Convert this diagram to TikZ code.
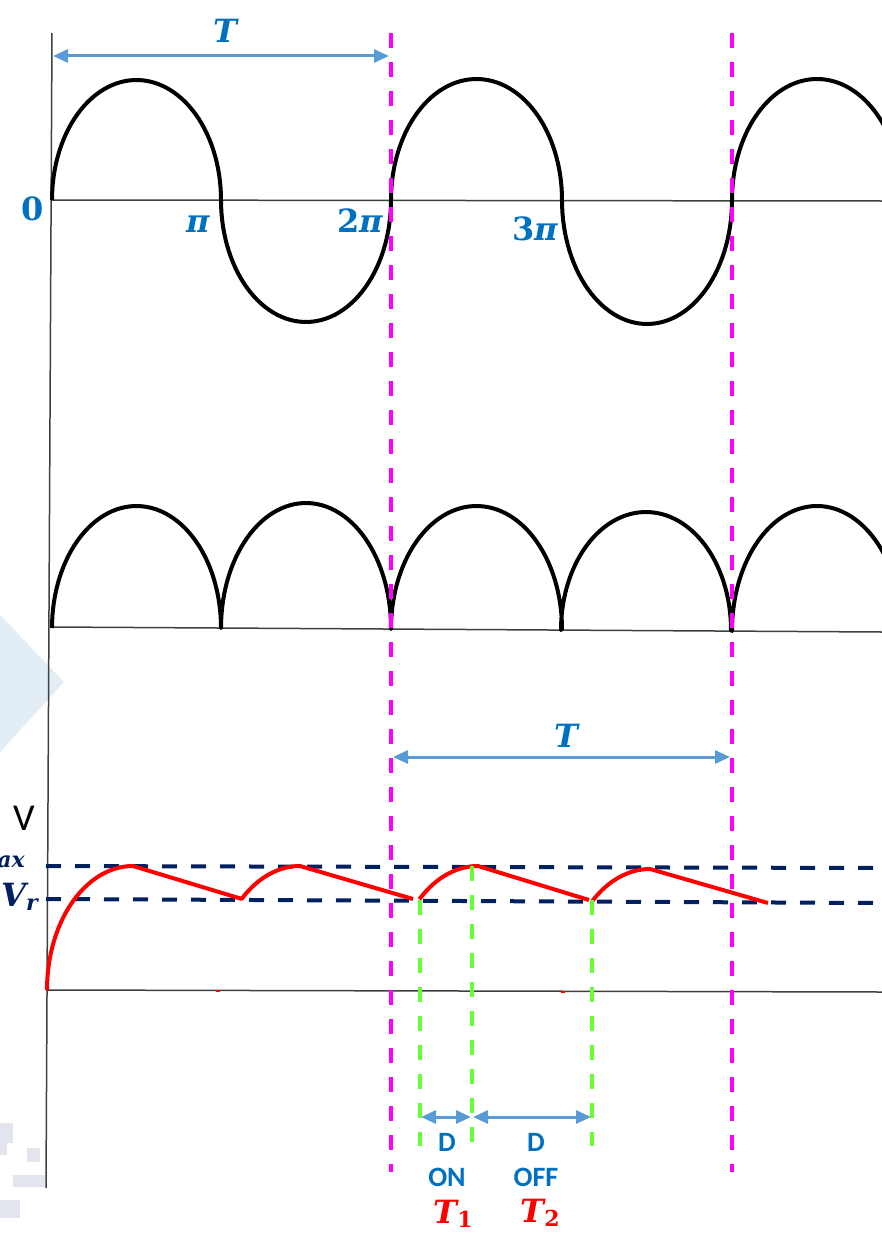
\documentclass[tikz,border=0pt]{standalone}
\usepackage{fontspec}
\newfontfamily\carl{Carlito}
\newfontfamily\mserif{DejaVu Serif}
\usetikzlibrary{arrows.meta}
\definecolor{lblue}{HTML}{0070C0}
\definecolor{arrblue}{HTML}{5B9BD5}
\definecolor{navy}{HTML}{002060}
\definecolor{mag}{HTML}{FF00FF}
\definecolor{grn}{HTML}{66FF33}
\definecolor{wm}{RGB}{226,237,245}
\definecolor{wmg}{RGB}{226,228,238}
\newcommand{\subtx}[1]{\raisebox{-0.28ex}{\fontsize{22}{22}\selectfont #1}}
\begin{document}
\begin{tikzpicture}[x=1pt,y=-1pt,
  axis/.style={draw=black!75,line width=1.5pt},
  wave/.style={draw=black,line width=4pt,line join=round},
  magdash/.style={draw=mag,line width=3.5pt,dash pattern=on 15pt off 14pt},
  lvl/.style={draw=navy,line width=4pt,dash pattern=on 15pt off 14pt},
  gdash/.style={draw=grn,line width=3.5pt,dash pattern=on 15pt off 14pt},
  rc/.style={draw=red,line width=4pt,line join=round},
  dim/.style={draw=arrblue,line width=3pt,arrows={Triangle[length=15pt,width=13pt]-Triangle[length=15pt,width=13pt]}},
  mlab/.style={text=lblue,font=\mserif\bfseries\fontsize{32}{38}\selectfont,inner sep=0pt,anchor=base},
  rlab/.style={text=red,font=\mserif\bfseries\itshape\fontsize{32}{38}\selectfont,inner sep=0pt,anchor=base},
  vlab/.style={text=navy,font=\mserif\bfseries\itshape\fontsize{32}{38}\selectfont,inner sep=0pt},
  dlab/.style={text=lblue,font=\carl\bfseries\fontsize{28}{32}\selectfont,inner sep=0pt,anchor=base}
]
\useasboundingbox (0,0) rectangle (882,1239);
\clip (0,0) rectangle (882,1239);

% faint watermark remnants
\fill[wm] (0,615) -- (64,682) -- (0,752) -- cycle;
\fill[wmg] (0,1123) rectangle (13,1143);
\fill[wmg] (0,1143) rectangle (7,1155);
\fill[wmg] (27,1148) rectangle (40,1162);
\fill[wmg] (13,1175) rectangle (45,1187);
\fill[wmg] (0,1200) rectangle (20,1218);

% axes
\coordinate (yTop) at (52,33);
\coordinate (yBot) at (46,1188);
\coordinate (a1l) at (52,200); \coordinate (a1r) at (882,201);
\coordinate (a2l) at (52,627); \coordinate (a2r) at (882,632);
\coordinate (a3l) at (46,990); \coordinate (a3r) at (882,992);
\draw[axis] (yTop) -- (yBot);
\draw[axis] (a1l) -- (a1r);
\draw[axis] (a2l) -- (a2r);
\draw[axis] (a3l) -- (a3r);

% input sine wave
\draw[wave] plot[domain=180:0,samples=60] ({136.5+84.5*cos(\x)},{200-120*sin(\x)})
  -- plot[domain=180:360,samples=60] ({306+85*cos(\x)},{200-122*sin(\x)})
  -- plot[domain=180:0,samples=60] ({476.5+85.5*cos(\x)},{200-121*sin(\x)})
  -- plot[domain=180:360,samples=60] ({647+85*cos(\x)},{200-124*sin(\x)})
  -- plot[domain=180:30,samples=60] ({817+85*cos(\x)},{200-121*sin(\x)});

% full-wave rectified
\draw[wave] plot[domain=180:0,samples=60] ({136.5+84.5*cos(\x)},{628-122*sin(\x)})
  -- plot[domain=180:0,samples=60] ({306+85*cos(\x)},{628-125*sin(\x)})
  -- plot[domain=180:0,samples=60] ({476.5+85.5*cos(\x)},{629-123*sin(\x)})
  -- plot[domain=180:0,samples=60] ({646+85*cos(\x)},{630-118*sin(\x)})
  -- plot[domain=180:30,samples=60] ({817+85*cos(\x)},{631-125*sin(\x)});

% level lines
\coordinate (vmL) at (46,866); \coordinate (vmR) at (882,868);
\coordinate (vrL) at (46,899); \coordinate (vrR) at (882,903);
\draw[lvl] (vmL) -- (vmR);
\draw[lvl] (vrL) -- (vrR);

% filtered output (red)
\draw[rc] plot[domain=180:90,samples=50] ({133+86*cos(\x)},{990-124*sin(\x)}) -- (242,899);
\draw[rc] plot[domain=133:90,samples=30] ({300+86*cos(\x)},{990-124*sin(\x)}) -- (413,899);
\draw[rc] plot[domain=133:90,samples=30] ({478+86*cos(\x)},{990-124*sin(\x)}) -- (589,900);
\draw[rc] plot[domain=133:90,samples=30] ({650+86*cos(\x)},{993-124*sin(\x)}) -- (768,903);
\draw[red,line width=2pt] (216,991) -- (220,991);
\draw[red,line width=2pt] (561,992) -- (565,992);

% green dashed lines
\coordinate (g1t) at (420,900); \coordinate (g1b) at (420,1146);
\coordinate (g2t) at (472,866); \coordinate (g2b) at (472,1146);
\coordinate (g3t) at (592,900); \coordinate (g3b) at (592,1146);
\draw[gdash] (g1t) -- (g1b);
\draw[gdash] (g2t) -- (g2b);
\draw[gdash] (g3t) -- (g3b);

% magenta dashed lines
\coordinate (m1t) at (391,33); \coordinate (m1b) at (391,1172);
\coordinate (m2t) at (732,33); \coordinate (m2b) at (732,1172);
\draw[magdash] (m1t) -- (m1b);
\draw[magdash] (m2t) -- (m2b);

% dimension arrows
\coordinate (tA) at (53,56); \coordinate (tB) at (389,56);
\draw[dim] (tA) -- (tB);
\coordinate (tC) at (393,757); \coordinate (tD) at (730,757);
\draw[dim] (tC) -- (tD);
\coordinate (dA) at (421,1117); \coordinate (dB) at (471,1117);
\coordinate (dC) at (473,1117); \coordinate (dD) at (591,1117);
\draw[dim] (dA) -- (dB);
\draw[dim] (dC) -- (dD);

% labels
\node[mlab] (Ttop) at (225,43) {\itshape T};
\node[mlab] (zero) at (33,220) {0};
\node[mlab] (pi1) at (198,232) {\itshape π};
\node[mlab] (pi2) at (360,232) {2\itshape π};
\node[mlab] (pi3) at (535,240) {3\itshape π};
\node[mlab] (Tmid) at (566,747) {\itshape T};
\node[text=black,font=\carl\fontsize{38}{42}\selectfont,inner sep=0pt] (V) at (24,818) {V};
\node[vlab,anchor=base east] (vmax) at (25,863) {V\subtx{max}};
\node[vlab,anchor=base west] (vr) at (1,906) {V\subtx{r}};
\node[dlab] (d1) at (447,1151) {D};
\node[dlab] (on) at (447,1186) {ON};
\node[dlab] (d2) at (536,1151) {D};
\node[dlab] (off) at (536,1186) {OFF};
\node[rlab] (T1) at (453,1223) {T\subtx{\upshape 1}};
\node[rlab] (T2) at (540,1222) {T\subtx{\upshape 2}};
\end{tikzpicture}
\end{document}
